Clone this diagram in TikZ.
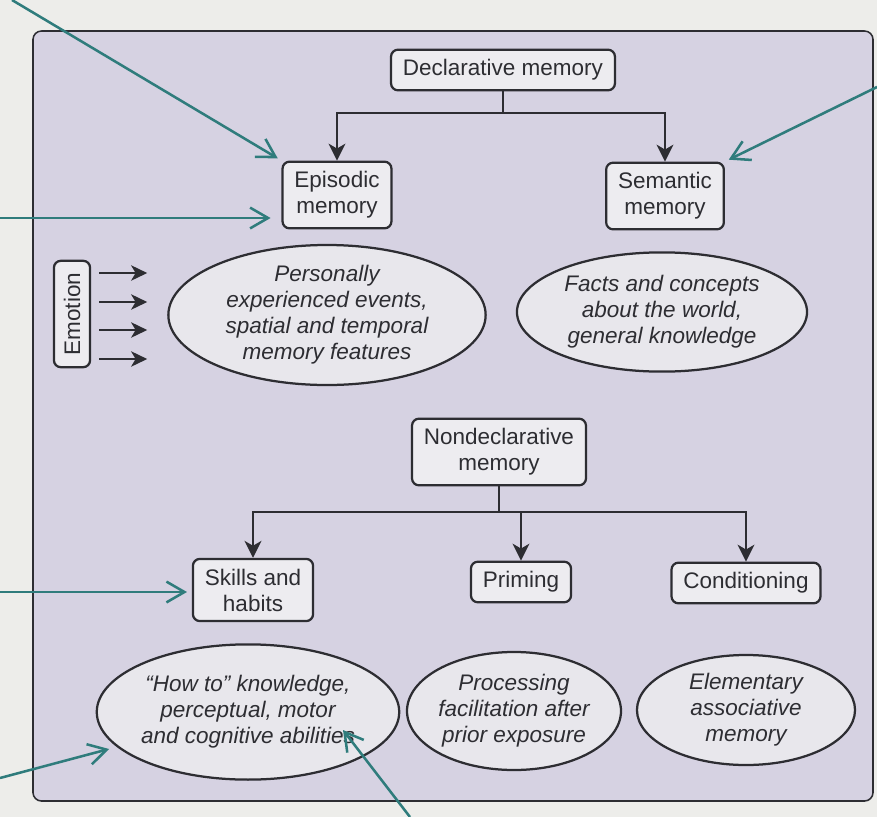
\documentclass[tikz,border=0pt]{standalone}
\usepackage{fontspec}
\setmainfont{Liberation Sans}
\usepackage{tikz}
\usetikzlibrary{shapes}
\usetikzlibrary{positioning}
\usetikzlibrary{arrows.meta}
\usetikzlibrary{calc}
\definecolor{pagebg}{RGB}{237,237,234}
\definecolor{panelbg}{RGB}{214,210,226}
\definecolor{boxbg}{RGB}{237,236,240}
\definecolor{ellbg}{RGB}{232,231,236}
\definecolor{inkd}{RGB}{45,45,50}
\definecolor{tealp}{RGB}{47,124,124}
\tikzset{
    panel/.style = {draw=inkd,line width=1.1pt,fill=panelbg,rounded corners=6pt},
    membox/.style = {rectangle, rounded corners=5pt, line width=1.6pt, draw=inkd, fill=boxbg, align=center, inner xsep=8.5pt, inner ysep=7pt, text=inkd},
    memell/.style = {ellipse, line width=1.6pt, draw=inkd, fill=ellbg, align=center, inner sep=0pt, text=inkd, font=\itshape},
    edgel/.style = {line width=1.9pt,draw=inkd}, % joint
    edgek/.style = {-{Stealth[length=0.42cm,width=0.42cm,inset=0.12cm]},line width=1.9pt,draw=inkd},
    edgee/.style = {-{Stealth[length=0.4cm,width=0.38cm,inset=0.11cm]},line width=2pt,draw=inkd}, % emotion
    edget/.style = {-{Straight Barb[length=0.45cm,width=0.52cm]},line width=1.8pt,draw=tealp}, % pointer
    every picture/.style={font issue=\fontsize{16}{18.5}},
    font issue/.style={execute at begin picture={#1\selectfont}
  }
}
\begin{document}
\begin{tikzpicture}[x=0.025cm,y=-0.025cm]
%
\fill[pagebg] (0,0) rectangle (877,817);
\useasboundingbox (0,0) rectangle (877,817);
\path[panel] (33,31) rectangle (873,801);
%
\node[membox] at (503,70) (decl) {Declarative memory};
\node[membox] at (337,195) (epi) {Episodic\\memory};
\node[membox] at (665,196) (sem) {Semantic\\memory};
\node[membox, rotate=90] at (72,314) (emo) {Emotion};
\node[memell, minimum width=7.93cm, minimum height=3.25cm] at (327,315) (epell) {Personally\\experienced events,\\spatial and temporal\\memory features};
\node[memell, minimum width=7.25cm, minimum height=2.98cm] at (662,312) (semell) {Facts and concepts\\about the world,\\general knowledge};
%
\node[membox] at (499,452) (nd) {Nondeclarative\\memory};
\node[membox] at (253,590) (skl) {Skills and\\habits};
\node[membox] at (521,582) (pri) {Priming};
\node[membox] at (746,583) (cnd) {Conditioning};
\node[memell, minimum width=7.25cm, minimum height=3.38cm] at (248,712) (how) {“How to” knowledge,\\perceptual, motor\\and cognitive abilities};
\node[memell, minimum width=4.95cm, minimum height=2.95cm] at (514,711) (proc) {Processing\\facilitation after\\prior exposure};
\node[memell, minimum width=5.45cm, minimum height=2.75cm] at (746,710) (elem) {Elementary\\associative\\memory};
%
\coordinate (dj) at (503,113);
\coordinate (nj) at (499,512);
\draw[edgel] (decl) -- (dj);
\draw[edgek] (dj) -| (epi);
\draw[edgek] (dj) -| (sem);
\draw[edgel] (nd) -- (nj);
\draw[edgek] (nj) -| (skl);
\draw[edgek] (nj) -| (pri);
\draw[edgek] (nj) -| (cnd);
%
\foreach \y in {273,302,330,359}
    \draw[edgee,shorten <=0.2cm,shorten >=0.5cm] (emo.south |- 0,\y) -- (epell.west |- 0,\y);
%
\coordinate (p1) at (12,0);
\coordinate (p2) at (0,218);
\coordinate (p3) at (877,87);
\coordinate (p4) at (0,592);
\coordinate (p5) at (0,778);
\coordinate (p6) at (410,817);
\draw[edget,shorten >=3pt] (p1) -- (epi.north west);
\draw[edget,shorten >=0.27cm] (p2) -- (p2 -| epi.west);
\draw[edget,shorten >=3pt] (p3) -- (sem.north east);
\draw[edget,shorten >=0.12cm] (p4) -- (p4 -| skl.west);
\draw[edget,shorten >=0.2cm] (p5) -- (how);
\draw[edget] (p6) -- ($(how.center)+(95,18)$);

\end{tikzpicture}
\end{document}
